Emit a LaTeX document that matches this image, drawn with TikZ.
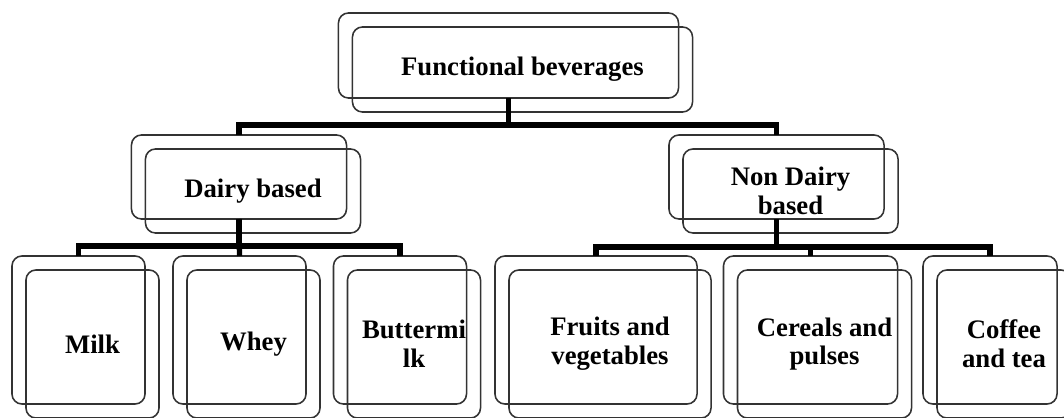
\documentclass[tikz,border=0pt]{standalone}
\usepackage{fontspec}
\setmainfont{Liberation Serif}
\usetikzlibrary{positioning, calc}

\tikzset{
  box/.style={draw=black!80, line width=1.1pt, rounded corners=0.25cm, outer sep=0pt, inner sep=2pt,
              align=center, font=\fontsize{19}{20.5}\selectfont\bfseries},
  boxback/.style={draw=black!80, line width=1.1pt, rounded corners=0.25cm, outer sep=0pt, inner sep=0pt},
  topsize/.style={minimum width=8.5cm, minimum height=2.125cm},
  midsize/.style={minimum width=5.375cm, minimum height=2.1cm},
  leafsize/.style={minimum width=3.325cm, minimum height=3.7cm},
  link/.style={line width=3.8pt, black},
}

\begin{document}
\begin{tikzpicture}[x=0.025cm, y=-0.025cm]
    \useasboundingbox (0,0) rectangle (1064,418);

    % Front boxes with the labels
    \node[box, topsize] (func) at (522.5,69.5) {Functional beverages};
    \node[box, midsize] (dairy) at (253,191) {Dairy based};
    \node[box, midsize] (nondairy) at (790.5,191) {Non Dairy\\based};

    \node[box, leafsize] (milk) at (92.5,344) {Milk};
    \node[box, leafsize] (whey) at (253.5,344) {Whey};
    \node[box, leafsize] (butter) at (414,344) {Buttermi\\lk};
    \node[box, leafsize, minimum width=5.05cm] (fruits) at (610,344) {Fruits and\\vegetables};
    \node[box, leafsize, minimum width=4.35cm] (cereals) at (824.5,344) {Cereals and\\pulses};
    \node[box, leafsize, minimum width=3.35cm] (coffee) at (1004,344) {Coffee\\and tea};

    % Back copies, shifted up and left
    \node[boxback, topsize] (funcb) at ([shift={(-14,-14)}]func) {};
    \node[boxback, midsize] (dairyb) at ([shift={(-14,-14)}]dairy) {};
    \node[boxback, midsize] (nondairyb) at ([shift={(-14,-14)}]nondairy) {};

    \node[boxback, leafsize] (milkb) at ([shift={(-14,-14)}]milk) {};
    \node[boxback, leafsize] (wheyb) at ([shift={(-14,-14)}]whey) {};
    \node[boxback, leafsize] (butterb) at ([shift={(-14,-14)}]butter) {};
    \node[boxback, leafsize, minimum width=5.05cm] (fruitsb) at ([shift={(-14,-14)}]fruits) {};
    \node[boxback, leafsize, minimum width=4.35cm] (cerealsb) at ([shift={(-14,-14)}]cereals) {};
    \node[boxback, leafsize, minimum width=3.35cm] (coffeeb) at ([shift={(-14,-14)}]coffee) {};

    % Levels of the bars
    \coordinate (barTop) at (0,125);
    \coordinate (barDairy) at (0,246);
    \coordinate (barNon) at (0,247);

    % Connectors
    \draw[link] (funcb.south) |- (barTop -| dairyb.north) -- (dairyb.north);
    \draw[link] (funcb.south) |- (barTop -| nondairyb.north) -- (nondairyb.north);

    \draw[link] (dairyb.south) |- (barDairy -| milkb.north) -- (milkb.north);
    \draw[link] (dairyb.south) -- (wheyb.north);
    \draw[link] (dairyb.south) |- (barDairy -| butterb.north) -- (butterb.north);

    \draw[link] (nondairyb.south) |- (barNon -| fruitsb.north) -- (fruitsb.north);
    \draw[link] (nondairyb.south) |- (barNon -| cerealsb.north) -- (cerealsb.north);
    \draw[link] (nondairyb.south) |- (barNon -| coffeeb.north) -- (coffeeb.north);
\end{tikzpicture}
\end{document}
